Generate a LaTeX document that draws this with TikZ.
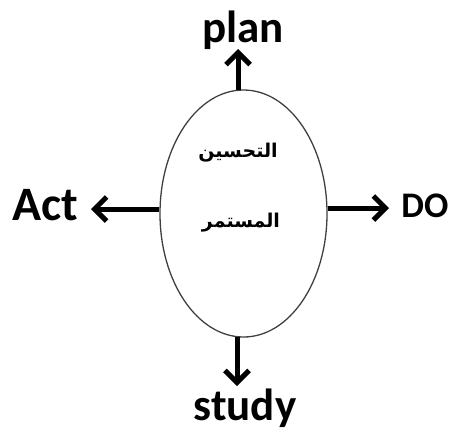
\documentclass[tikz,border=0pt]{standalone}
\usepackage{fontspec}
\setmainfont{Carlito}
\newfontfamily\arabicfont[Script=Arabic]{DejaVu Sans}
\TeXXeTstate=1
\usetikzlibrary{arrows.meta,shapes.geometric}
\begin{document}
\begin{tikzpicture}[x=1pt,y=-1pt,
  lbl/.style={font=\bfseries\fontsize{45}{50}\selectfont, inner sep=0pt, anchor=base},
  arr/.style={line width=5pt, -{Straight Barb[length=12pt,width=24pt,line width=5pt]}},
  ar/.style={font=\arabicfont\bfseries\fontsize{19}{22}\selectfont, inner sep=0pt}]
\useasboundingbox (0,0) rectangle (454,432);
\node[ellipse, draw=black!75, line width=1.3pt, minimum width=167pt, minimum height=247pt, inner sep=0pt] (e) at (243.5,213.5) {};
\node[ar] (t1) at (238,153) {\beginR التحسين\endR};
\node[ar] (t2) at (241,223) {\beginR المستمر\endR};
\coordinate (up) at (238,49);
\coordinate (lf) at (91,209);
\coordinate (rt) at (389,208);
\coordinate (dn) at (237,386);
\draw[arr] (238,90) -- (up);
\draw[arr] (e.west |- lf) -- (lf);
\draw[arr] (e.east |- rt) -- (rt);
\draw[arr] (237,337) -- (dn);
\node[lbl] (plan) at (243,42) {plan};
\node[lbl, font=\bfseries\fontsize{48}{50}\selectfont] (act) at (45,220) {Act};
\node[lbl, font=\bfseries\fontsize{36}{40}\selectfont] (do) at (425,217) {DO};
\node[lbl] (study) at (245,420) {study};
\end{tikzpicture}
\end{document}
